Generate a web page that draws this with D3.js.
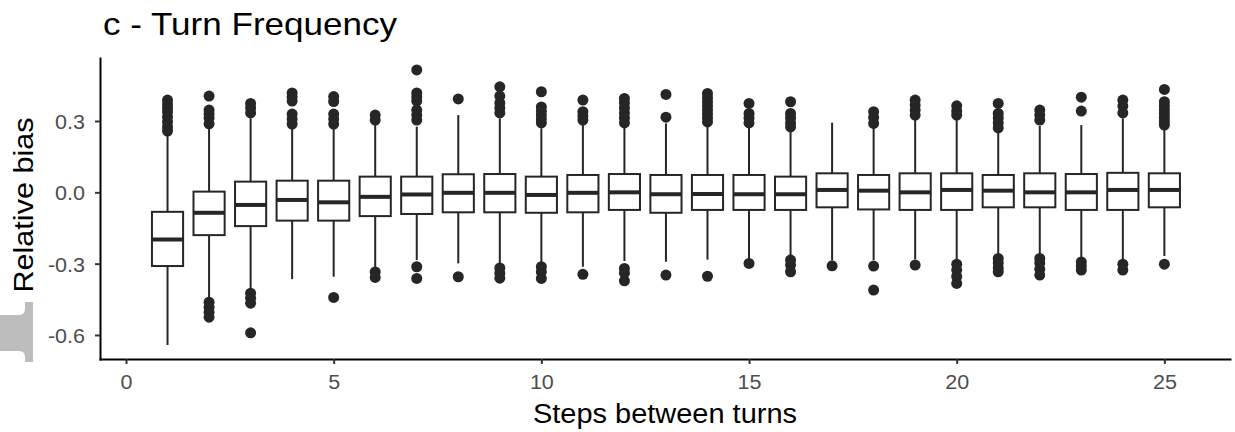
<!DOCTYPE html>
<html><head><meta charset="utf-8">
<script src="https://cdn.jsdelivr.net/npm/d3@7"></script>
<style>body{margin:0;background:#fff}svg{display:block}text{font-family:"Liberation Sans",Arial,sans-serif}</style>
</head><body>
<svg id="c" width="1235" height="432"></svg>
<script>
const steps = d3.range(1, 26);
const q1 = [-0.310,-0.180,-0.142,-0.119,-0.119,-0.100,-0.091,-0.084,-0.084,-0.086,-0.084,-0.074,-0.086,-0.074,-0.074,-0.074,-0.063,-0.072,-0.074,-0.074,-0.063,-0.063,-0.074,-0.074,-0.063];
const medians = [-0.198,-0.086,-0.053,-0.032,-0.042,-0.019,-0.009,-0.002,-0.002,-0.011,-0.002,0.000,-0.008,-0.007,-0.008,-0.008,0.010,0.007,0.000,0.010,0.007,0.000,0.000,0.010,0.010];
const q3 = [-0.082,0.003,0.045,0.049,0.049,0.066,0.066,0.076,0.077,0.066,0.073,0.077,0.073,0.073,0.073,0.066,0.080,0.073,0.080,0.080,0.073,0.080,0.077,0.082,0.080];
const whiskerLow = [-0.642,-0.453,-0.411,-0.365,-0.355,-0.316,-0.285,-0.299,-0.299,-0.299,-0.313,-0.289,-0.292,-0.283,-0.281,-0.273,-0.285,-0.285,-0.282,-0.285,-0.268,-0.264,-0.285,-0.292,-0.268];
const whiskerHigh = [0.248,0.269,0.311,0.276,0.269,0.283,0.276,0.325,0.311,0.269,0.297,0.279,0.290,0.283,0.276,0.262,0.293,0.276,0.311,0.304,0.262,0.279,0.283,0.311,0.279];
const outliers = [
  [0.388,0.371,0.355,0.338,0.317,0.296,0.275,0.258],
  [0.405,0.346,0.330,0.313,0.288,-0.462,-0.483,-0.504,-0.525],
  [0.374,0.355,0.334,-0.424,-0.445,-0.466,-0.591],
  [0.418,0.401,0.384,0.329,0.308,0.287],
  [0.403,0.382,0.329,0.308,0.287,-0.442],
  [0.325,0.304,-0.335,-0.358],
  [0.515,0.418,0.401,0.384,0.346,0.325,0.304,-0.313,-0.362],
  [0.393,-0.355],
  [0.444,0.405,0.376,0.355,0.334,-0.318,-0.340,-0.361],
  [0.423,0.359,0.342,0.325,0.308,0.292,-0.313,-0.335,-0.362],
  [0.388,0.339,0.321,0.304,-0.345],
  [0.395,0.376,0.355,0.334,0.313,0.292,-0.320,-0.340,-0.372],
  [0.412,0.316,-0.348],
  [0.416,0.397,0.380,0.363,0.346,0.329,0.313,0.296,-0.353],
  [0.374,0.332,0.313,0.292,-0.299],
  [0.381,0.332,0.313,0.292,0.275,-0.285,-0.306,-0.334],
  [-0.309],
  [0.339,0.315,0.290,-0.310,-0.411],
  [0.388,0.367,0.346,0.325,-0.306],
  [0.364,0.342,0.325,-0.302,-0.327,-0.354,-0.383],
  [0.374,0.332,0.313,0.292,0.271,-0.278,-0.297,-0.318,-0.334],
  [0.346,0.325,0.304,-0.278,-0.297,-0.323,-0.348],
  [0.400,0.342,-0.293,-0.310,-0.327],
  [0.388,0.363,0.334,-0.302,-0.327],
  [0.433,0.381,0.365,0.348,0.332,0.315,0.298,0.283,-0.302]
];
const xTicks = [0, 5, 10, 15, 20, 25];
const xTickLabels = ["0", "5", "10", "15", "20", "25"];
const yTicks = [-0.6, -0.3, 0, 0.3];
const yTickLabels = ["-0.6", "-0.3", "0.0", "0.3"];
const titleText = "c - Turn Frequency";
const xLabel = "Steps between turns";
const yLabel = "Relative bias";

const svg = d3.select("#c");
const ink = "#262626";
const x = d3.scaleLinear().domain([-0.626, 26.58]).range([100, 1230]);
const y = d3.scaleLinear().domain([-0.701, 0.565]).range([359, 58]);
const halfW = x(0.375) - x(0);

function stretch(sel, f) {
  sel.each(function(){ const w = this.getComputedTextLength(); d3.select(this).attr("textLength", w * f).attr("lengthAdjust", "spacingAndGlyphs"); });
}

// decorative grey fragment at left edge
svg.append("path")
  .attr("d", "M0,315 L19,315 Q25,315 25,308 L25,302 L33,302 L33,362 L25,362 L25,357 Q25,351 19,351 L0,351 Z")
  .attr("fill", "#bdbdbd");

const g = svg.append("g");
steps.forEach((s, i) => {
  const cx = x(s);
  g.selectAll(null).data(outliers[i]).join("circle")
    .attr("cx", cx).attr("cy", d => y(d)).attr("r", 5.5).attr("fill", ink);
  g.append("line").attr("x1", cx).attr("x2", cx).attr("y1", y(whiskerHigh[i])).attr("y2", y(q3[i]))
    .attr("stroke", ink).attr("stroke-width", 2);
  g.append("line").attr("x1", cx).attr("x2", cx).attr("y1", y(q1[i])).attr("y2", y(whiskerLow[i]))
    .attr("stroke", ink).attr("stroke-width", 2);
  g.append("rect").attr("x", cx - halfW).attr("width", 2 * halfW)
    .attr("y", y(q3[i])).attr("height", y(q1[i]) - y(q3[i]))
    .attr("fill", "#fff").attr("stroke", ink).attr("stroke-width", 2);
  g.append("line").attr("x1", cx - halfW).attr("x2", cx + halfW).attr("y1", y(medians[i])).attr("y2", y(medians[i]))
    .attr("stroke", ink).attr("stroke-width", 4);
});

const xa = svg.append("g").attr("transform", "translate(0,359)")
  .call(d3.axisBottom(x).tickValues(xTicks).tickFormat((d, i) => xTickLabels[i]).tickSize(5).tickSizeOuter(0).tickPadding(10));
const ya = svg.append("g").attr("transform", "translate(100,0)")
  .call(d3.axisLeft(y).tickValues(yTicks).tickFormat((d, i) => yTickLabels[i]).tickSize(5).tickSizeOuter(0).tickPadding(10));
[xa, ya].forEach(a => {
  a.select(".domain").attr("stroke", "#000").attr("stroke-width", 2).attr("stroke-linecap", "square");
  a.selectAll(".tick line").attr("stroke", "#333").attr("stroke-width", 2);
  a.selectAll(".tick text").attr("fill", "#4d4d4d").style("font-size", "20.5px").attr("font-family", null);
});
ya.selectAll(".tick text").attr("dy", "0.36em");
stretch(xa.selectAll(".tick text"), 1.05);
stretch(ya.selectAll(".tick text"), 1.05);

svg.append("text").attr("x", 103).attr("y", 35).attr("fill", "#000")
  .style("font-size", "32px").attr("textLength", 294).attr("lengthAdjust", "spacingAndGlyphs").text(titleText);
svg.append("text").attr("x", 665).attr("y", 423).attr("text-anchor", "middle").attr("fill", "#000")
  .style("font-size", "27px").attr("textLength", 264).attr("lengthAdjust", "spacingAndGlyphs").text(xLabel);
svg.append("text").attr("transform", "translate(33,205) rotate(-90)").attr("text-anchor", "middle").attr("fill", "#000")
  .style("font-size", "27px").attr("textLength", 175).attr("lengthAdjust", "spacingAndGlyphs").text(yLabel);
</script>
</body></html>
